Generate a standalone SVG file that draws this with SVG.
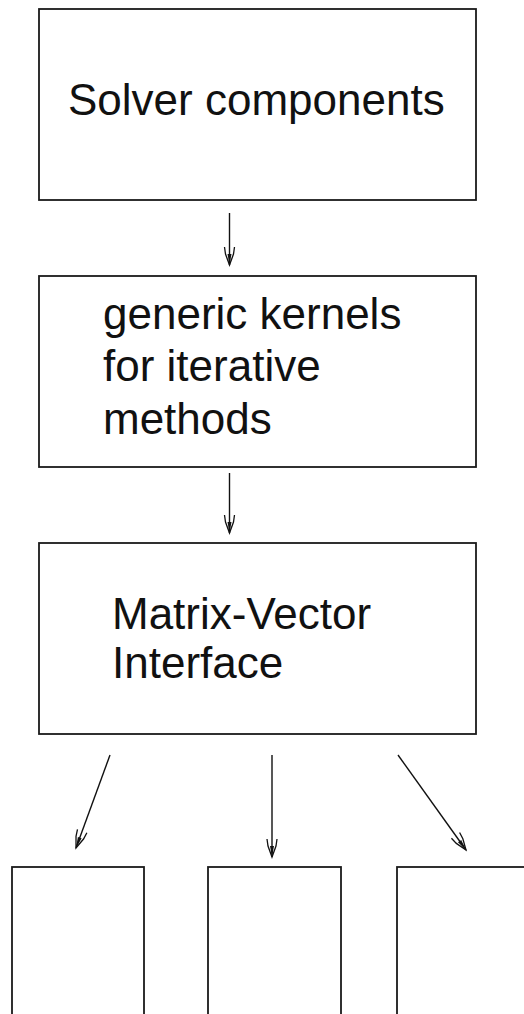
<svg xmlns="http://www.w3.org/2000/svg" width="524" height="1014" viewBox="0 0 524 1014">
<style>
.box{fill:#fff;stroke:#1a1a1a;stroke-width:1.8}
.lbl{font-family:"Liberation Sans",Arial,Helvetica,sans-serif;font-size:44px;fill:#111}
.conn{stroke:#111;stroke-width:1.4;fill:none}
</style>
<defs>
<marker id="ah" markerUnits="userSpaceOnUse" markerWidth="24" markerHeight="16" refX="0" refY="0" viewBox="-20 -8 22 16" orient="auto" overflow="visible">
<path d="M-18,-5 L-11,-4 L0,0 L-11,4 L-18,5" fill="none" stroke="#111" stroke-width="1.3"/>
<path d="M-11,-2 L0,0 L-11,2 Z" fill="#111"/>
</marker>
</defs>
<rect width="524" height="1014" fill="#fff"/>
<g id="solver">
<rect class="box" x="39" y="9" width="437" height="191"/>
<text class="lbl" x="68" y="115">Solver components</text>
</g>
<g id="kernels">
<rect class="box" x="39" y="276" width="437" height="191"/>
<text class="lbl" x="103" y="329">generic kernels</text>
<text class="lbl" x="103" y="381">for iterative</text>
<text class="lbl" x="103" y="434">methods</text>
</g>
<g id="interface">
<rect class="box" x="39" y="543" width="437" height="191"/>
<text class="lbl" x="112" y="629">Matrix-Vector</text>
<text class="lbl" x="112" y="678">Interface</text>
</g>
<g id="impl1"><rect class="box" x="12" y="867" width="132" height="160"/></g>
<g id="impl2"><rect class="box" x="208" y="867" width="133" height="160"/></g>
<g id="impl3"><rect class="box" x="397" y="867" width="140" height="160"/></g>
<g id="connectors">
<line class="conn" x1="229.5" y1="213" x2="229.5" y2="265" marker-end="url(#ah)"/>
<line class="conn" x1="229.5" y1="473" x2="229.5" y2="533" marker-end="url(#ah)"/>
<line class="conn" x1="110" y1="755" x2="76" y2="848" marker-end="url(#ah)"/>
<line class="conn" x1="272" y1="755" x2="272" y2="857" marker-end="url(#ah)"/>
<line class="conn" x1="398" y1="755" x2="466" y2="850" marker-end="url(#ah)"/>
</g>
</svg>
